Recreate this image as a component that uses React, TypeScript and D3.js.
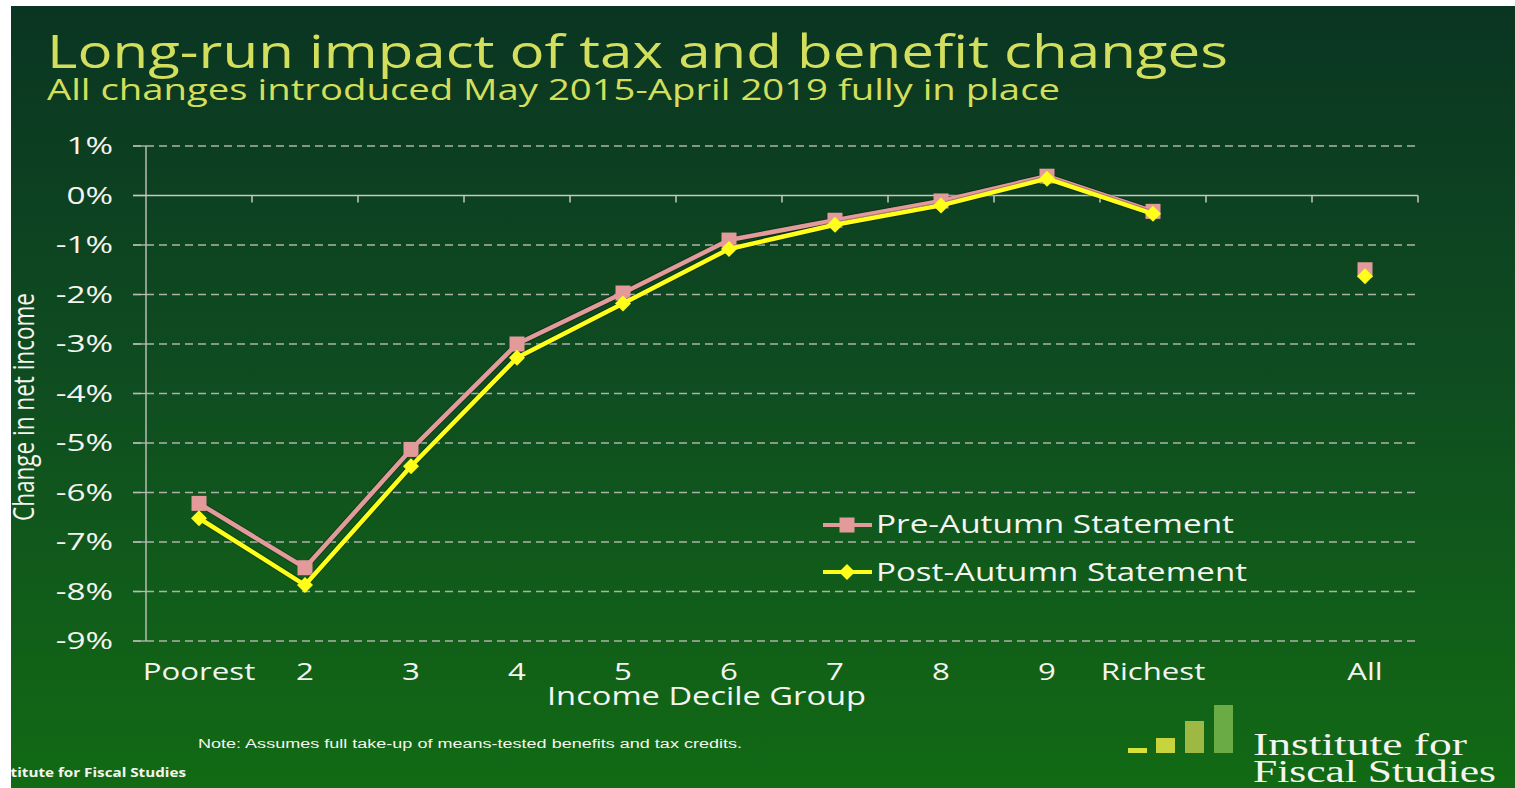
import React from "react";
import * as d3 from "d3";

const categories = ["Poorest", "2", "3", "4", "5", "6", "7", "8", "9", "Richest", " ", "All"];
const deciles = ["Poorest", "2", "3", "4", "5", "6", "7", "8", "9", "Richest"];
const preValues = [-6.22, -7.52, -5.13, -3.0, -1.97, -0.9, -0.5, -0.11, 0.39, -0.32];
const postValues = [-6.52, -7.87, -5.47, -3.28, -2.18, -1.08, -0.59, -0.2, 0.34, -0.37];
const preAll = -1.5;
const postAll = -1.63;
const yTicks = [1, 0, -1, -2, -3, -4, -5, -6, -7, -8, -9];
const seriesNames = ["Pre-Autumn Statement", "Post-Autumn Statement"];

const W = 1515;
const H = 788;
const PRE = "#e29a9a";
const POST = "#ffff1a";
const TXT = "#f4f4f0";
const TITLE = "#d3df5c";
const SANS = "'Open Sans', 'Noto Sans', sans-serif";

export default function App() {
  const x = d3.scaleBand<string>().domain(categories).range([146, 1418]).padding(0);
  const y = d3.scaleLinear().domain([-9, 1]).range([641, 146]);
  const cx = (c: string) => (x(c) as number) + x.bandwidth() / 2;

  const line = d3
    .line<number>()
    .x((_, i) => cx(deciles[i]))
    .y((d) => y(d));

  const sq = 15;
  const dm = 8;
  const square = (px: number, py: number, key: string) => (
    <rect key={key} x={px - sq / 2} y={py - sq / 2} width={sq} height={sq} fill={PRE} />
  );
  const diamond = (px: number, py: number, key: string) => (
    <path
      key={key}
      d={`M${px},${py - dm}L${px + dm},${py}L${px},${py + dm}L${px - dm},${py}Z`}
      fill={POST}
    />
  );

  const boundaries = categories.map((c) => (x(c) as number) + x.bandwidth());

  return (
    <svg
      width={W}
      height={H}
      style={{ position: "absolute", left: 0, top: 0, display: "block" }}
    >
      <defs>
        <linearGradient id="bg" x1="0" y1="0" x2="0" y2="1">
          <stop offset="0" stopColor="#0a3522" />
          <stop offset="0.5" stopColor="#0f4e20" />
          <stop offset="1" stopColor="#126a14" />
        </linearGradient>
        <clipPath id="panel">
          <rect x={11} y={6} width={W - 11} height={H - 6} />
        </clipPath>
      </defs>
      <rect x={0} y={0} width={W} height={H} fill="#ffffff" />
      <rect x={11} y={6} width={W - 11} height={H - 6} fill="url(#bg)" />

      <g clipPath="url(#panel)">
        {/* Title */}
        <text
          x={47}
          y={68}
          fill={TITLE}
          fontFamily={SANS}
          fontSize={46}
          textLength={1181}
          lengthAdjust="spacingAndGlyphs"
        >
          Long-run impact of tax and benefit changes
        </text>
        <text
          x={47}
          y={100}
          fill={TITLE}
          fontFamily={SANS}
          fontSize={30}
          textLength={1013}
          lengthAdjust="spacingAndGlyphs"
        >
          All changes introduced May 2015-April 2019 fully in place
        </text>

        {/* Gridlines */}
        {yTicks.map((t) =>
          t === 0 ? null : (
            <line
              key={"g" + t}
              x1={133}
              x2={1418}
              y1={y(t)}
              y2={y(t)}
              stroke="#adb2a8"
              strokeWidth={1.3}
              strokeDasharray="8,5"
            />
          )
        )}
        {yTicks.map((t) => (
          <line key={"lt" + t} x1={133} x2={146} y1={y(t)} y2={y(t)} stroke="#b8bcb4" strokeWidth={1.3} />
        ))}
        <line x1={146} x2={146} y1={y(1)} y2={y(-9)} stroke="#b8bcb4" strokeWidth={1.5} />
        <line x1={133} x2={1418} y1={y(0)} y2={y(0)} stroke="#c4c8c0" strokeWidth={1.5} />
        {boundaries.map((b, i) => (
          <line key={"xt" + i} x1={b} x2={b} y1={y(0)} y2={y(0) + 7} stroke="#c4c8c0" strokeWidth={1.5} />
        ))}

        {/* Y tick labels */}
        {yTicks.map((t) => (
          <text
            key={"yl" + t}
            transform={`translate(113,${y(t)}) scale(1.45,1)`}
            dy="0.36em"
            textAnchor="end"
            fill={TXT}
            fontFamily={SANS}
            fontSize={23}
          >
            {`${t}%`}
          </text>
        ))}

        {/* Y axis title */}
        <text
          transform="translate(34,407) rotate(-90)"
          textAnchor="middle"
          fill={TXT}
          fontFamily={SANS}
          fontSize={30}
          textLength={228}
          lengthAdjust="spacingAndGlyphs"
        >
          Change in net income
        </text>

        {/* X labels */}
        {categories.map((c, i) => (
          <text
            key={"xl" + i}
            transform={`translate(${cx(c)},680) scale(1.3,1)`}
            textAnchor="middle"
            fill={TXT}
            fontFamily={SANS}
            fontSize={24}
          >
            {c}
          </text>
        ))}
        <text
          x={547}
          y={705}
          fill={TXT}
          fontFamily={SANS}
          fontSize={25}
          textLength={319}
          lengthAdjust="spacingAndGlyphs"
        >
          Income Decile Group
        </text>

        {/* Series lines */}
        <path d={line(preValues) as string} fill="none" stroke="rgba(0,0,0,0.25)" strokeWidth={6.5} />
        <path d={line(preValues) as string} fill="none" stroke={PRE} strokeWidth={4.5} strokeLinejoin="round" />
        {preValues.map((v, i) => square(cx(deciles[i]), y(v), "ps" + i))}
        {square(cx("All"), y(preAll), "psall")}

        <path d={line(postValues) as string} fill="none" stroke="rgba(0,0,0,0.25)" strokeWidth={6.5} />
        <path d={line(postValues) as string} fill="none" stroke={POST} strokeWidth={4.5} strokeLinejoin="round" />
        {postValues.map((v, i) => diamond(cx(deciles[i]), y(v), "pd" + i))}
        {diamond(cx("All"), y(postAll), "pdall")}

        {/* Legend */}
        <line x1={823} x2={872} y1={525} y2={525} stroke={PRE} strokeWidth={4} />
        {square(847, 525, "lgs")}
        <text x={876} y={533} fill={TXT} fontFamily={SANS} fontSize={25} textLength={358} lengthAdjust="spacingAndGlyphs">
          {seriesNames[0]}
        </text>
        <line x1={823} x2={872} y1={572} y2={572} stroke={POST} strokeWidth={4} />
        {diamond(847, 572, "lgd")}
        <text x={876} y={581} fill={TXT} fontFamily={SANS} fontSize={25} textLength={371} lengthAdjust="spacingAndGlyphs">
          {seriesNames[1]}
        </text>

        {/* Note */}
        <text
          x={198}
          y={748}
          fill={TXT}
          fontFamily="'Liberation Sans', Arial, sans-serif"
          fontSize={12.5}
          textLength={544}
          lengthAdjust="spacingAndGlyphs"
        >
          Note: Assumes full take-up of means-tested benefits and tax credits.
        </text>
        <text
          x={-12}
          y={777}
          fill={TXT}
          fontFamily="'Open Sans', sans-serif"
          fontWeight="bold"
          fontSize={12}
          textLength={198}
          lengthAdjust="spacingAndGlyphs"
        >
          Institute for Fiscal Studies
        </text>

        {/* Logo */}
        <rect x={1128} y={748} width={19} height={5} fill="#d6e23c" />
        <rect x={1156} y={738} width={19} height={15} fill="#c7d43e" />
        <rect x={1185} y={721} width={19} height={32} fill="#9db843" />
        <rect x={1214} y={705} width={19} height={48} fill="#6aab45" />
        <text x={1253} y={755} fill={TXT} fontFamily="'Liberation Serif', 'DejaVu Serif', serif" fontSize={31} textLength={214} lengthAdjust="spacingAndGlyphs">
          Institute for
        </text>
        <text x={1253} y={782} fill={TXT} fontFamily="'Liberation Serif', 'DejaVu Serif', serif" fontSize={31} textLength={243} lengthAdjust="spacingAndGlyphs">
          Fiscal Studies
        </text>
      </g>
    </svg>
  );
}
